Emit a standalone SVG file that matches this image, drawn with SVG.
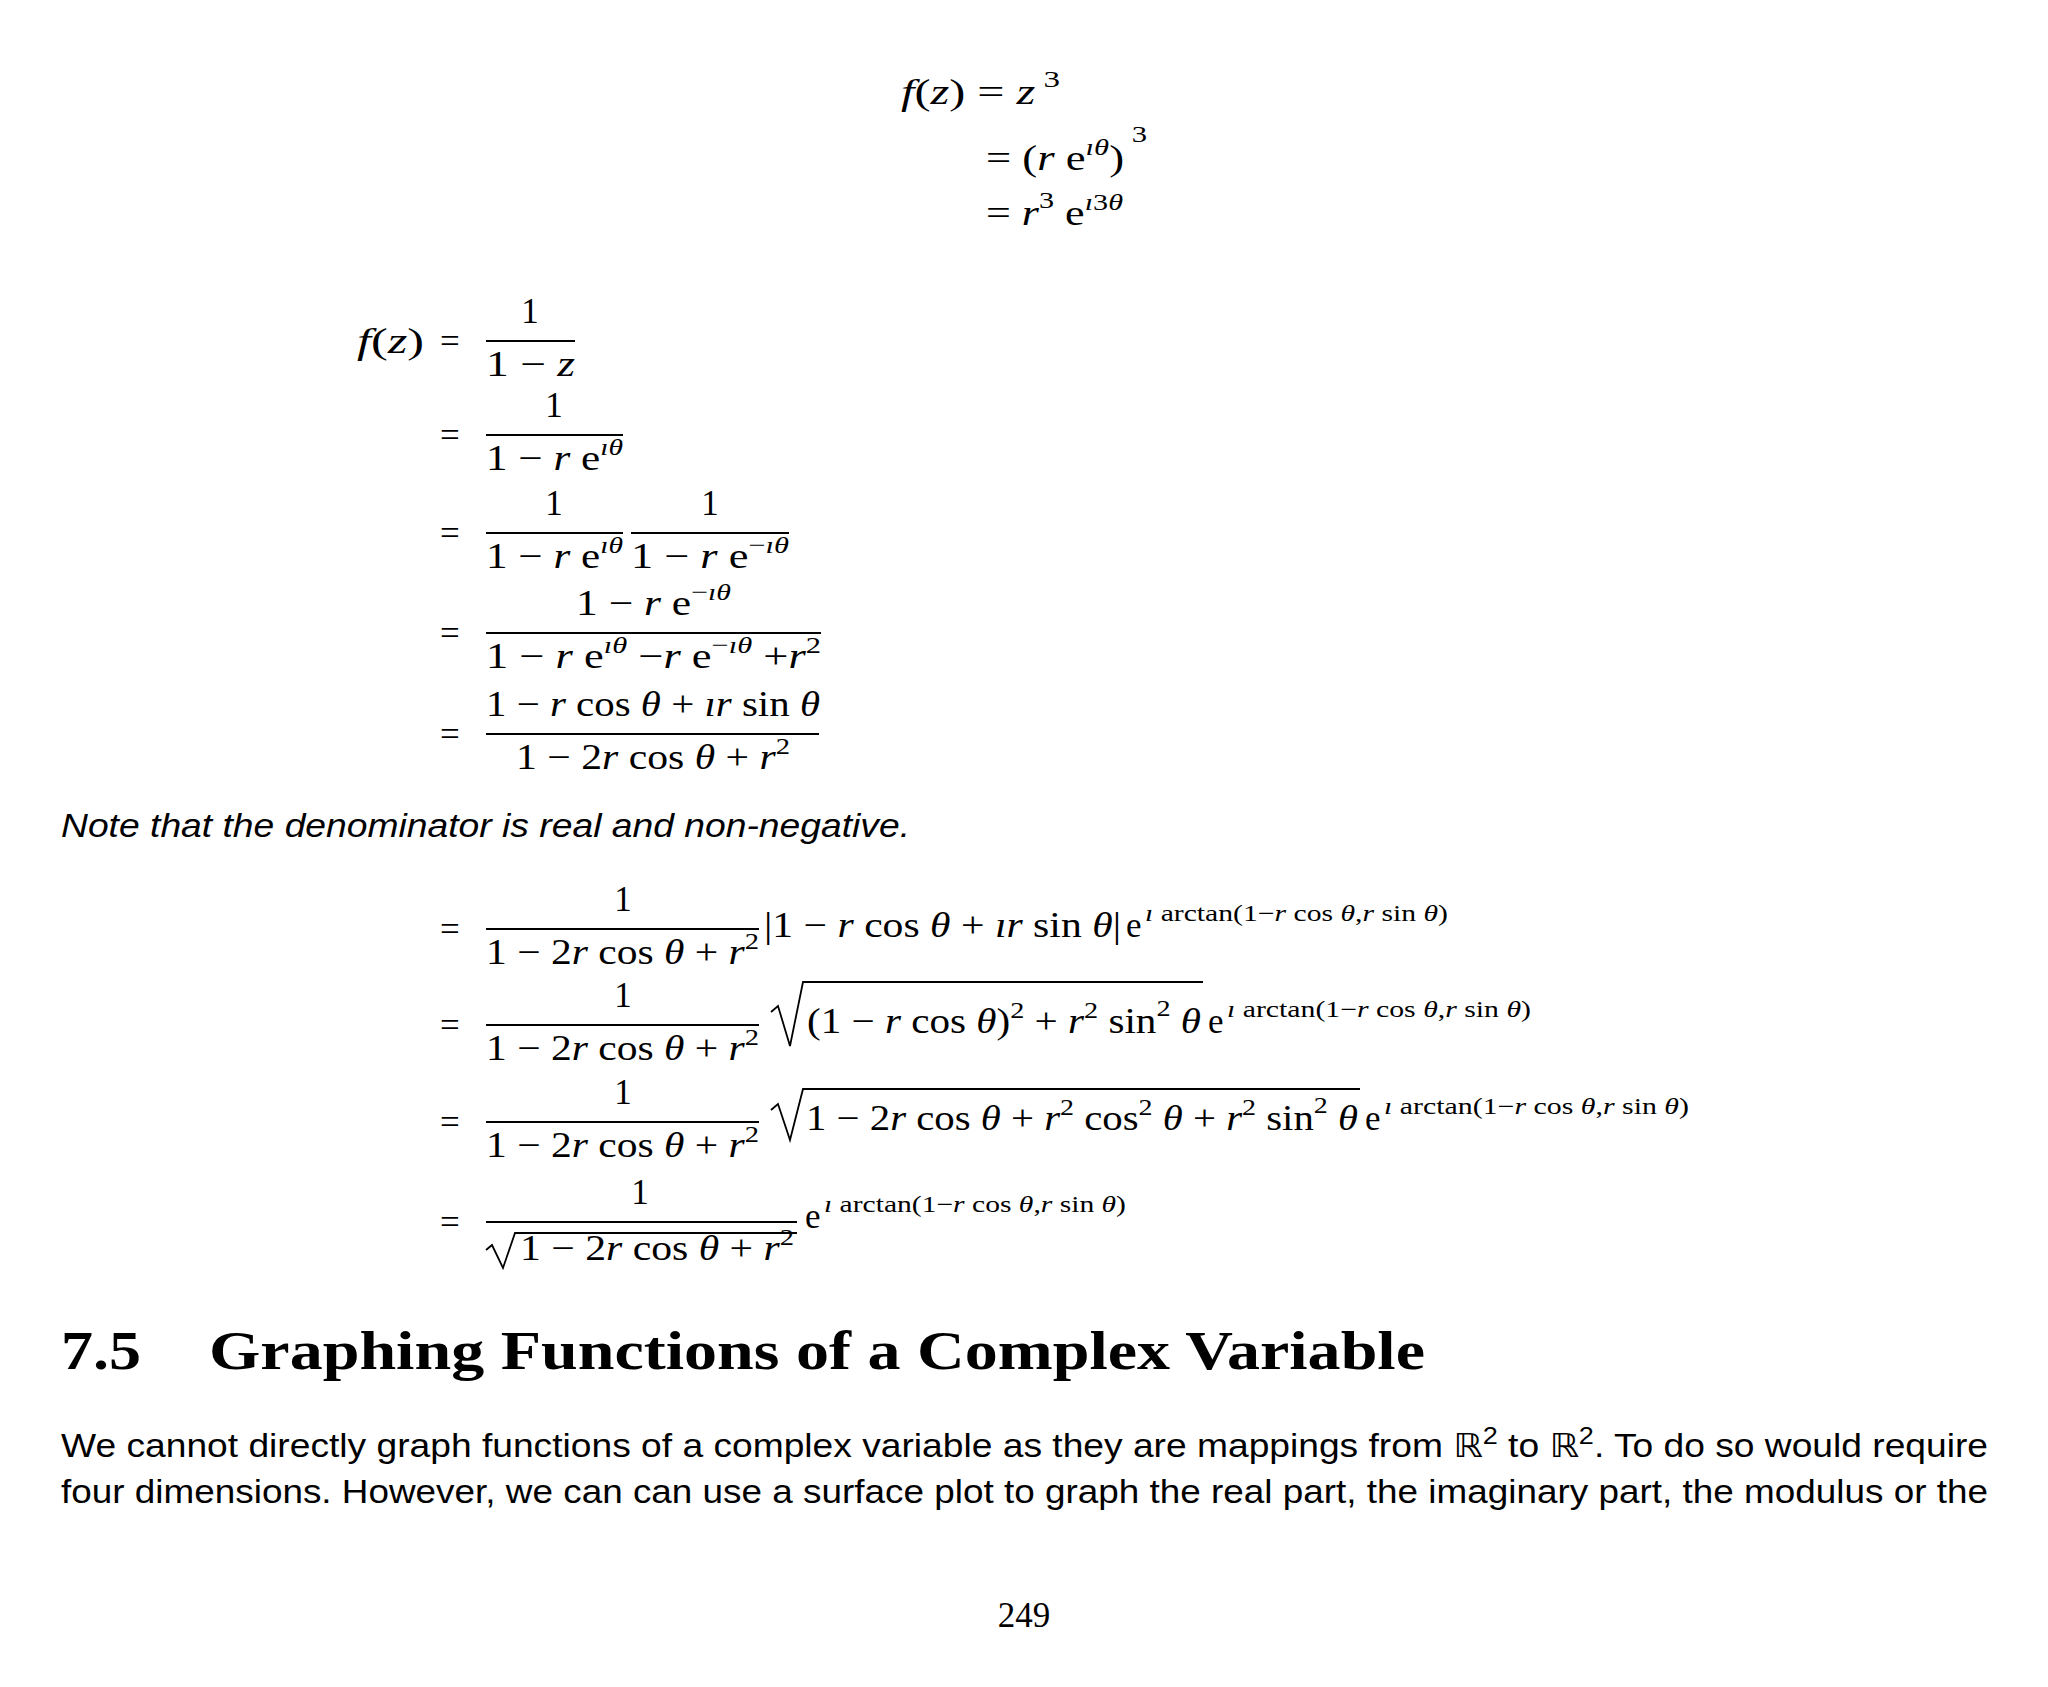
<svg xmlns="http://www.w3.org/2000/svg" width="2048" height="1687" viewBox="0 0 2048 1687">
<style>
text{font-family:"Liberation Serif","DejaVu Serif",serif;font-size:35px;fill:#000}
.i{font-style:italic}
.s{font-size:24px}
.ss{font-size:23px}
.c{text-anchor:middle}
.bar{stroke:#000;stroke-width:1.8}
.rad{fill:none;stroke:#000;stroke-width:1.8}
.sans{font-family:"Liberation Sans","DejaVu Sans",sans-serif}
</style>
<rect width="2048" height="1687" fill="#fff"/>
<!-- z^3 -->
<text x="901" y="104" textLength="159" lengthAdjust="spacingAndGlyphs"><tspan class="i">f</tspan>(<tspan class="i">z</tspan>) = <tspan class="i">z</tspan><tspan class="s" dy="-17"> 3</tspan></text>
<text x="986" y="170" textLength="161" lengthAdjust="spacingAndGlyphs">= (<tspan class="i">r</tspan> e<tspan class="s i" dy="-15">ıθ</tspan><tspan dy="15">)</tspan><tspan class="s" dy="-28"> 3</tspan></text>
<text x="986" y="225" textLength="137" lengthAdjust="spacingAndGlyphs">= <tspan class="i">r</tspan><tspan class="s" dy="-17">3</tspan><tspan dy="17"> e</tspan><tspan class="s" dy="-15"><tspan class="i">ı</tspan>3<tspan class="i">θ</tspan></tspan></text>

<!-- 1/(1-z) -->
<text x="357" y="353" textLength="67" lengthAdjust="spacingAndGlyphs"><tspan class="i">f</tspan>(<tspan class="i">z</tspan>)</text>
<text x="440" y="353">=</text>
<line class="bar" x1="486" y1="341" x2="575" y2="341"/>
<text class="c" x="530" y="323">1</text>
<text x="486" y="376" textLength="89" lengthAdjust="spacingAndGlyphs">1 − <tspan class="i">z</tspan></text>

<text x="440" y="447">=</text>
<line class="bar" x1="486" y1="435" x2="623" y2="435"/>
<text class="c" x="554" y="417">1</text>
<text x="486" y="470" textLength="137" lengthAdjust="spacingAndGlyphs">1 − <tspan class="i">r</tspan> e<tspan class="s i" dy="-15">ıθ</tspan></text>

<text x="440" y="545">=</text>
<line class="bar" x1="486" y1="533" x2="623" y2="533"/>
<line class="bar" x1="631" y1="533" x2="789" y2="533"/>
<text class="c" x="554" y="515">1</text>
<text class="c" x="710" y="515">1</text>
<text x="486" y="568" textLength="137" lengthAdjust="spacingAndGlyphs">1 − <tspan class="i">r</tspan> e<tspan class="s i" dy="-15">ıθ</tspan></text>
<text x="631" y="568" textLength="158" lengthAdjust="spacingAndGlyphs">1 − <tspan class="i">r</tspan> e<tspan class="s" dy="-15">−<tspan class="i">ıθ</tspan></tspan></text>

<text x="440" y="645">=</text>
<line class="bar" x1="486" y1="633" x2="821" y2="633"/>
<text x="576" y="615" textLength="155" lengthAdjust="spacingAndGlyphs">1 − <tspan class="i">r</tspan> e<tspan class="s" dy="-15">−<tspan class="i">ıθ</tspan></tspan></text>
<text x="486" y="668" textLength="335" lengthAdjust="spacingAndGlyphs">1 − <tspan class="i">r</tspan> e<tspan class="s i" dy="-15">ıθ</tspan><tspan dy="15"> −</tspan><tspan class="i">r</tspan> e<tspan class="s" dy="-15">−<tspan class="i">ıθ</tspan></tspan><tspan dy="15"> +</tspan><tspan class="i">r</tspan><tspan class="s" dy="-15">2</tspan></text>

<text x="440" y="746">=</text>
<line class="bar" x1="486" y1="734" x2="819" y2="734"/>
<text x="486" y="716" textLength="334" lengthAdjust="spacingAndGlyphs">1 − <tspan class="i">r</tspan> cos <tspan class="i">θ</tspan> + <tspan class="i">ır</tspan> sin <tspan class="i">θ</tspan></text>
<text x="516" y="769" textLength="274" lengthAdjust="spacingAndGlyphs">1 − 2<tspan class="i">r</tspan> cos <tspan class="i">θ</tspan> + <tspan class="i">r</tspan><tspan class="s" dy="-15">2</tspan></text>

<text class="sans i" x="61" y="837" style="font-size:33px" textLength="849" lengthAdjust="spacingAndGlyphs">Note that the denominator is real and non-negative.</text>

<!-- row 6 -->
<text x="440" y="941">=</text>
<line class="bar" x1="486" y1="929" x2="759" y2="929"/>
<text class="c" x="623" y="911">1</text>
<text x="486" y="964" textLength="273" lengthAdjust="spacingAndGlyphs">1 − 2<tspan class="i">r</tspan> cos <tspan class="i">θ</tspan> + <tspan class="i">r</tspan><tspan class="s" dy="-15">2</tspan></text>
<text x="764" y="937" textLength="357" lengthAdjust="spacingAndGlyphs">|1 − <tspan class="i">r</tspan> cos <tspan class="i">θ</tspan> + <tspan class="i">ır</tspan> sin <tspan class="i">θ</tspan>|</text>
<text x="1126" y="937">e</text>
<text x="1145" y="921" class="ss" textLength="303" lengthAdjust="spacingAndGlyphs"><tspan class="i">ı</tspan> arctan(1−<tspan class="i">r</tspan> cos <tspan class="i">θ</tspan>,<tspan class="i">r</tspan> sin <tspan class="i">θ</tspan>)</text>

<!-- row 7 -->
<text x="440" y="1037">=</text>
<line class="bar" x1="486" y1="1025" x2="759" y2="1025"/>
<text class="c" x="623" y="1007">1</text>
<text x="486" y="1060" textLength="273" lengthAdjust="spacingAndGlyphs">1 − 2<tspan class="i">r</tspan> cos <tspan class="i">θ</tspan> + <tspan class="i">r</tspan><tspan class="s" dy="-15">2</tspan></text>
<path class="rad" d="M771,1012 L778,1006 L790,1046 L803,982 H1203"/>
<text x="807" y="1033" textLength="394" lengthAdjust="spacingAndGlyphs">(1 − <tspan class="i">r</tspan> cos <tspan class="i">θ</tspan>)<tspan class="s" dy="-15">2</tspan><tspan dy="15"> + </tspan><tspan class="i">r</tspan><tspan class="s" dy="-15">2</tspan><tspan dy="15"> sin</tspan><tspan class="s" dy="-17">2</tspan><tspan dy="17"> </tspan><tspan class="i">θ</tspan></text>
<text x="1208" y="1033">e</text>
<text x="1227" y="1017" class="ss" textLength="304" lengthAdjust="spacingAndGlyphs"><tspan class="i">ı</tspan> arctan(1−<tspan class="i">r</tspan> cos <tspan class="i">θ</tspan>,<tspan class="i">r</tspan> sin <tspan class="i">θ</tspan>)</text>

<!-- row 8 -->
<text x="440" y="1134">=</text>
<line class="bar" x1="486" y1="1122" x2="759" y2="1122"/>
<text class="c" x="623" y="1104">1</text>
<text x="486" y="1157" textLength="273" lengthAdjust="spacingAndGlyphs">1 − 2<tspan class="i">r</tspan> cos <tspan class="i">θ</tspan> + <tspan class="i">r</tspan><tspan class="s" dy="-15">2</tspan></text>
<path class="rad" d="M771,1110 L778,1104 L790,1140 L803,1089 H1360"/>
<text x="806" y="1130" textLength="552" lengthAdjust="spacingAndGlyphs">1 − 2<tspan class="i">r</tspan> cos <tspan class="i">θ</tspan> + <tspan class="i">r</tspan><tspan class="s" dy="-15">2</tspan><tspan dy="15"> cos</tspan><tspan class="s" dy="-15">2</tspan><tspan dy="15"> </tspan><tspan class="i">θ</tspan> + <tspan class="i">r</tspan><tspan class="s" dy="-15">2</tspan><tspan dy="15"> sin</tspan><tspan class="s" dy="-17">2</tspan><tspan dy="17"> </tspan><tspan class="i">θ</tspan></text>
<text x="1365" y="1130">e</text>
<text x="1384" y="1114" class="ss" textLength="305" lengthAdjust="spacingAndGlyphs"><tspan class="i">ı</tspan> arctan(1−<tspan class="i">r</tspan> cos <tspan class="i">θ</tspan>,<tspan class="i">r</tspan> sin <tspan class="i">θ</tspan>)</text>

<!-- row 9 -->
<text x="440" y="1234">=</text>
<line class="bar" x1="486" y1="1222" x2="797" y2="1222"/>
<text class="c" x="640" y="1204">1</text>
<path class="rad" d="M486,1250 L492,1245 L503,1268 L515,1233 H797"/>
<text x="520" y="1260" textLength="274" lengthAdjust="spacingAndGlyphs">1 − 2<tspan class="i">r</tspan> cos <tspan class="i">θ</tspan> + <tspan class="i">r</tspan><tspan class="s" dy="-15">2</tspan></text>
<text x="805" y="1228">e</text>
<text x="824" y="1212" class="ss" textLength="302" lengthAdjust="spacingAndGlyphs"><tspan class="i">ı</tspan> arctan(1−<tspan class="i">r</tspan> cos <tspan class="i">θ</tspan>,<tspan class="i">r</tspan> sin <tspan class="i">θ</tspan>)</text>

<!-- heading -->
<text x="61" y="1369" style="font-size:55px;font-weight:bold" textLength="80" lengthAdjust="spacingAndGlyphs">7.5</text>
<text x="209" y="1369" style="font-size:55px;font-weight:bold" textLength="1216" lengthAdjust="spacingAndGlyphs">Graphing Functions of a Complex Variable</text>

<text class="sans" x="61" y="1457" style="font-size:33px" textLength="1927" lengthAdjust="spacingAndGlyphs">We cannot directly graph functions of a complex variable as they are mappings from ℝ<tspan class="s" dy="-13">2</tspan><tspan dy="13"> to ℝ</tspan><tspan class="s" dy="-13">2</tspan><tspan dy="13">.  To do so would require</tspan></text>
<text class="sans" x="61" y="1503" style="font-size:33px" textLength="1927" lengthAdjust="spacingAndGlyphs">four dimensions.  However, we can can use a surface plot to graph the real part, the imaginary part, the modulus or the</text>

<text class="c" x="1024" y="1627">249</text>
</svg>
